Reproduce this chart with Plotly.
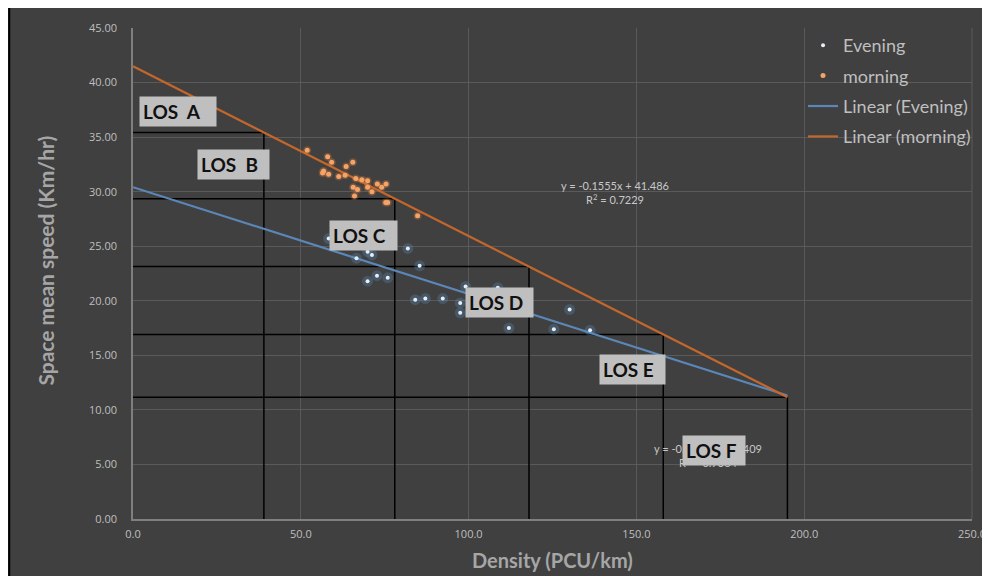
import plotly.graph_objects as go

# ---------------- data ----------------
morning_density = [51.9, 58.0, 59.2, 65.5, 63.5, 56.8, 56.5, 58.3, 61.3, 63.2, 66.4, 68.2,
                   69.9, 72.8, 75.4, 65.6, 66.9, 69.9, 71.2, 74.1, 66.0, 75.3, 75.9, 84.8]
morning_speed = [33.8, 33.2, 32.7, 32.7, 32.3, 31.9, 31.7, 31.6, 31.4, 31.5, 31.2, 31.1,
                 31.0, 30.7, 30.7, 30.4, 30.2, 30.4, 30.0, 30.4, 29.6, 29.0, 29.0, 27.8]

evening_density = [58.3, 69.9, 71.2, 66.6, 81.9, 85.4, 69.9, 72.7, 75.9, 99.1, 108.7, 84.1,
                   87.1, 92.3, 97.5, 97.5, 130.1, 112.0, 125.4, 136.2]
evening_speed = [25.7, 24.5, 24.2, 23.9, 24.8, 23.2, 21.8, 22.3, 22.1, 21.3, 21.2, 20.1,
                 20.2, 20.2, 19.8, 18.9, 19.2, 17.5, 17.4, 17.3]

morning_slope, morning_intercept, morning_r2 = -0.1555, 41.486, 0.7229
evening_slope, evening_intercept, evening_r2 = -0.0979, 30.409, 0.7364
trend_x = [0, 195]

los_break_density = [39, 78, 118, 158, 195]
los_labels = ["LOS  A", "LOS  B", "LOS C", "LOS D", "LOS E", "LOS F"]

x_ticks = [0, 50, 100, 150, 200, 250]
y_ticks = [0, 5, 10, 15, 20, 25, 30, 35, 40, 45]

# ---------------- figure ----------------
fig = go.Figure()

# LOS boundary lines (black)
lx, ly = [], []
for xb in los_break_density:
    yb = morning_slope * xb + morning_intercept
    lx += [0, xb, xb, None]
    ly += [yb, yb, 0, None]
fig.add_trace(go.Scatter(x=lx, y=ly, mode="lines", line=dict(color="black", width=1.5),
                         showlegend=False, hoverinfo="skip"))

# trend lines
fig.add_trace(go.Scatter(x=trend_x, y=[evening_slope * v + evening_intercept for v in trend_x],
                         mode="lines", line=dict(color="#5B87B8", width=2.2),
                         name="Linear (Evening)", legendrank=3, legendgroup="c"))
fig.add_trace(go.Scatter(x=trend_x, y=[morning_slope * v + morning_intercept for v in trend_x],
                         mode="lines", line=dict(color="#C5672B", width=2.2),
                         name="Linear (morning)", legendrank=4, legendgroup="d"))

# glow layers
fig.add_trace(go.Scatter(x=evening_density, y=evening_speed, mode="markers",
                         marker=dict(size=11, color="rgba(91,155,213,0.25)"),
                         showlegend=False, hoverinfo="skip"))
fig.add_trace(go.Scatter(x=morning_density, y=morning_speed, mode="markers",
                         marker=dict(size=8, color="rgba(237,125,49,0.28)"),
                         showlegend=False, hoverinfo="skip"))
# points
fig.add_trace(go.Scatter(x=evening_density, y=evening_speed, mode="markers",
                         marker=dict(size=4, color="#E8EEF6"),
                         name="Evening", legendrank=1, legendgroup="a"))
fig.add_trace(go.Scatter(x=morning_density, y=morning_speed, mode="markers",
                         marker=dict(size=5, color="#F2A46A"),
                         name="morning", legendrank=2, legendgroup="b"))

# equations (drawn before LOS F box)
fig.add_annotation(x=143.7, y=29.9, text=f"y = {morning_slope}x + {morning_intercept}<br>R<sup>2</sup> = {morning_r2}",
                   showarrow=False, font=dict(size=11, color="#C8C8C8", family="Lato"), align="center")
fig.add_annotation(x=171.3, y=5.8, text=f"y = {evening_slope}x + {evening_intercept}<br>R<sup>2</sup> = {evening_r2}",
                   showarrow=False, font=dict(size=11, color="#C8C8C8", family="Lato"), align="center")

# LOS labels (left edge, vertical centre, box width)
los_pos = [(1.8, 37.36, 70), (19.0, 32.45, 65), (58.5, 26.0, 61), (98.9, 19.8, 61), (139.0, 13.7, 59), (163.6, 6.27, 56)]
for (px_, py_, w_), lab in zip(los_pos, los_labels):
    fig.add_annotation(x=px_, y=py_, text=f"<b>{lab}</b>", showarrow=False, xanchor="left",
                       width=w_, align="left",
                       font=dict(size=19, color="#111111", family="Lato"),
                       bgcolor="#BFBFBF", borderpad=3)

# axis titles
fig.add_annotation(xref="paper", yref="paper", x=-0.1045, y=0.527, textangle=-90,
                   xanchor="center", yanchor="middle",
                   text="<b>Space mean speed (Km/hr)</b>", showarrow=False,
                   font=dict(size=21, color="#A6A6A6", family="Lato"))
fig.add_annotation(xref="paper", yref="paper", x=0.5, y=-0.0828, xanchor="center", yanchor="middle",
                   text="<b>Density (PCU/km)</b>", showarrow=False,
                   font=dict(size=20, color="#A6A6A6", family="Lato"))

# black left border of the chart panel
fig.add_shape(type="line", xref="paper", yref="paper", x0=-0.1475, x1=-0.1475, y0=-0.2, y1=1.1,
              line=dict(color="black", width=2), layer="below")
# right border gridline
fig.add_shape(type="line", xref="paper", yref="paper", x0=1, x1=1, y0=0, y1=1,
              line=dict(color="#5A5A5A", width=1), layer="below")

fig.update_layout(
    width=990, height=576,
    margin=dict(l=125, r=23, t=16, b=65),
    paper_bgcolor="#404040",
    plot_bgcolor="#404040",
    font=dict(family="Lato", color="#BFBFBF"),
    showlegend=True,
    legend=dict(x=0.7986, y=1.002, xanchor="left", yanchor="top", bgcolor="rgba(0,0,0,0)",
                font=dict(size=18, color="#BFBFBF"), tracegroupgap=4, itemwidth=30),
    xaxis=dict(range=[0, 250], tickvals=x_ticks, tickformat=".1f",
               showgrid=True, gridcolor="#5A5A5A", gridwidth=1,
               showline=True, linecolor="#7F7F7F", linewidth=1.5, zeroline=False,
               tickfont=dict(size=11, color="#BFBFBF", family="Open Sans"), ticks="",
               ticklabelstandoff=4),
    yaxis=dict(range=[0, 45], tickvals=y_ticks, tickformat=".2f",
               showgrid=True, gridcolor="#5A5A5A", gridwidth=1,
               showline=True, linecolor="#7F7F7F", linewidth=1.5, zeroline=False,
               tickfont=dict(size=11, color="#BFBFBF", family="Open Sans"), ticks="",
               ticklabelstandoff=12),
)

fig.write_html("out.html")
